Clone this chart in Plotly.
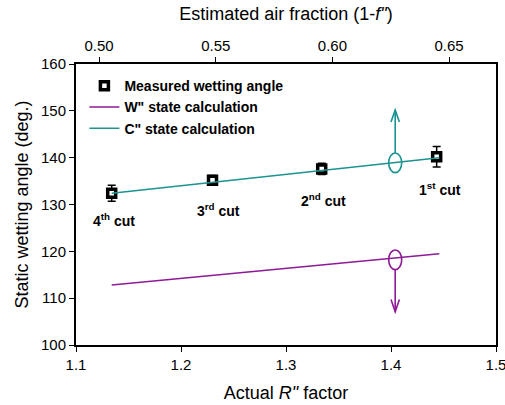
import plotly.graph_objects as go

# Measured data
cut_labels = ["4<sup>th</sup> cut", "3<sup>rd</sup> cut", "2<sup>nd</sup> cut", "1<sup>st</sup> cut"]
r_factor = [1.134, 1.230, 1.334, 1.4435]
angle = [132.4, 135.2, 137.6, 140.2]
angle_err = [1.7, 1.0, 1.2, 2.2]

# Calculation lines
calc_x = [1.134, 1.446]
w_state = [112.8, 119.5]
c_state = [132.4, 140.0]

# Label positions
label_y = [126.6, 128.8, 131.0, 133.3]
label_x = [1.136, 1.236, 1.336, 1.447]

# Marker ellipses / arrows at R'' = 1.404
mark_x = 1.404
mark_c = 138.9
mark_w = 118.2
arrow_c_end = 150.2
arrow_w_end = 107.1

top_ticks = [0.50, 0.55, 0.60, 0.65]

font = "Liberation Sans, Arial, sans-serif"
teal = "#1a9391"
purple = "#8e1a96"

fig = go.Figure()
fig.add_trace(go.Scatter(x=r_factor, y=angle, mode="markers",
                         name="Measured wetting angle",
                         error_y=dict(type="data", array=angle_err, color="black", thickness=1.5, width=4),
                         marker=dict(symbol="square", size=8, color="white", line=dict(color="black", width=3.5))))
fig.add_trace(go.Scatter(x=calc_x, y=w_state, mode="lines", name="W\" state calculation",
                         line=dict(color=purple, width=1.5)))
fig.add_trace(go.Scatter(x=calc_x, y=c_state, mode="lines", name="C\" state calculation",
                         line=dict(color=teal, width=1.5)))
fig.add_trace(go.Scatter(x=top_ticks, y=[None]*4, xaxis="x2", showlegend=False, hoverinfo="skip"))

for lx, ly, t in zip(label_x, label_y, cut_labels):
    fig.add_annotation(x=lx, y=ly, text="<b>" + t + "</b>", showarrow=False,
                       font=dict(family=font, size=14, color="black"))

hw, hh = 0.0062, 2.1
chev_w, chev_h = 0.0040, 2.6
for cy, tip, col in [(mark_c, arrow_c_end, teal), (mark_w, arrow_w_end, purple)]:
    fig.add_shape(type="circle", x0=mark_x - hw, x1=mark_x + hw, y0=cy - hh, y1=cy + hh,
                  line=dict(color=col, width=1.6))
    start = cy + hh if tip > cy else cy - hh
    back = tip - chev_h if tip > cy else tip + chev_h
    fig.add_shape(type="line", x0=mark_x, x1=mark_x, y0=start, y1=tip, line=dict(color=col, width=1.6))
    fig.add_shape(type="path",
                  path=f"M {mark_x - chev_w} {back} L {mark_x} {tip} L {mark_x + chev_w} {back}",
                  line=dict(color=col, width=1.6))

fig.update_layout(
    width=505, height=405,
    margin=dict(l=76, r=9, t=64, b=60),
    plot_bgcolor="white", paper_bgcolor="white",
    font=dict(family=font, size=15, color="black"),
    showlegend=True,
    legend=dict(x=0.02, y=0.978, xanchor="left", yanchor="top", bgcolor="rgba(0,0,0,0)",
                font=dict(family=font, size=14, color="black", weight="bold"),
                tracegroupgap=0, itemwidth=30),
    xaxis=dict(range=[1.1, 1.5], tickvals=[1.1, 1.2, 1.3, 1.4, 1.5], ticktext=["1.1", "1.2", "1.3", "1.4", "1.5"],
               ticks="outside", ticklen=5, tickcolor="black", showline=True, linecolor="black", linewidth=2,
               mirror=False, showgrid=False, zeroline=False, automargin=False, ticklabeloverflow="allow",
               title=dict(text="Actual <i>R\"</i> factor", font=dict(size=18), standoff=14)),
    xaxis2=dict(range=[0.4901, 0.6701], overlaying="x", side="top", tickvals=top_ticks,
                ticktext=["0.50", "0.55", "0.60", "0.65"], ticks="outside", ticklen=5, tickcolor="black",
                showline=True, linecolor="black", linewidth=2, showgrid=False, zeroline=False, automargin=False,
                title=dict(text="Estimated air fraction (1-<i>f\"</i>)", font=dict(size=18), standoff=12)),
    yaxis=dict(range=[100, 160], tickvals=[100, 110, 120, 130, 140, 150, 160],
               ticks="outside", ticklen=5, tickcolor="black", showline=True, linecolor="black", linewidth=2,
               mirror=True, showgrid=False, zeroline=False, automargin=False,
               title=dict(text="Static wetting angle (deg.)", font=dict(size=18), standoff=8)),
)
fig.write_html("out.html", config={"displayModeBar": False},
               post_script="document.body.style.margin='0px'; document.body.style.overflow='hidden';")
